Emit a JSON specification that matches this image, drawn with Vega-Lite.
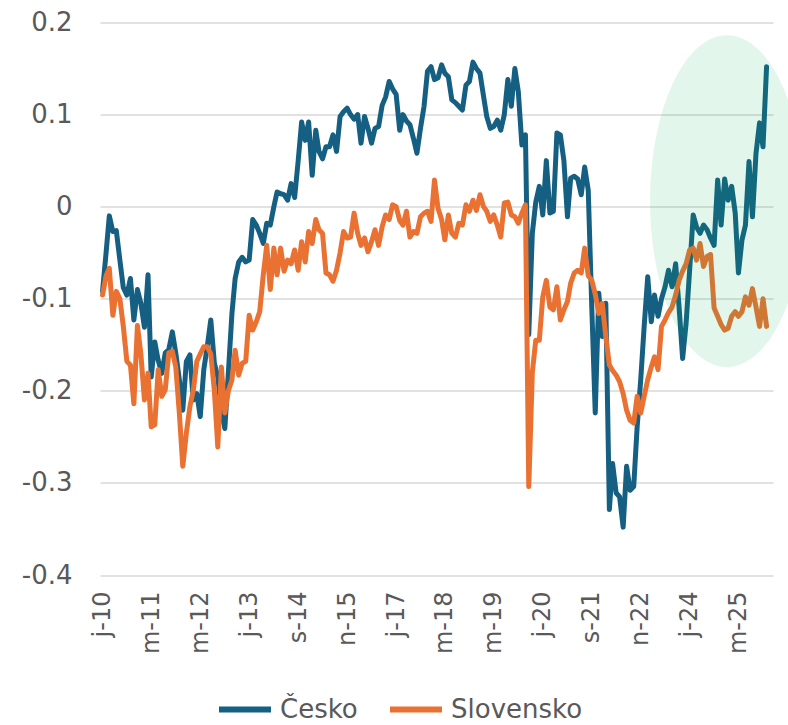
{
  "$schema": "https://vega.github.io/schema/vega-lite/v6.json",
  "width": 673,
  "height": 552.5,
  "autosize": {"type": "none"},
  "padding": {"left": 100, "top": 22.5, "right": 15, "bottom": 150},
  "background": "white",
  "config": {"view": {"stroke": null}, "font": "DejaVu Sans"},
  "layer": [
    {
      "data": {"values": [
        {"m":"2010-01","Česko":-0.092,"Slovensko":-0.096},
        {"m":"2010-02","Česko":-0.050,"Slovensko":-0.075},
        {"m":"2010-03","Česko":-0.010,"Slovensko":-0.067},
        {"m":"2010-04","Česko":-0.027,"Slovensko":-0.118},
        {"m":"2010-05","Česko":-0.026,"Slovensko":-0.092},
        {"m":"2010-06","Česko":-0.058,"Slovensko":-0.100},
        {"m":"2010-07","Česko":-0.088,"Slovensko":-0.130},
        {"m":"2010-08","Česko":-0.096,"Slovensko":-0.168},
        {"m":"2010-09","Česko":-0.078,"Slovensko":-0.172},
        {"m":"2010-10","Česko":-0.123,"Slovensko":-0.214},
        {"m":"2010-11","Česko":-0.090,"Slovensko":-0.129},
        {"m":"2010-12","Česko":-0.105,"Slovensko":-0.160},
        {"m":"2011-01","Česko":-0.131,"Slovensko":-0.210},
        {"m":"2011-02","Česko":-0.074,"Slovensko":-0.181},
        {"m":"2011-03","Česko":-0.185,"Slovensko":-0.239},
        {"m":"2011-04","Česko":-0.147,"Slovensko":-0.237},
        {"m":"2011-05","Česko":-0.167,"Slovensko":-0.177},
        {"m":"2011-06","Česko":-0.181,"Slovensko":-0.206},
        {"m":"2011-07","Česko":-0.159,"Slovensko":-0.199},
        {"m":"2011-08","Česko":-0.155,"Slovensko":-0.159},
        {"m":"2011-09","Česko":-0.136,"Slovensko":-0.157},
        {"m":"2011-10","Česko":-0.159,"Slovensko":-0.174},
        {"m":"2011-11","Česko":-0.188,"Slovensko":-0.224},
        {"m":"2011-12","Česko":-0.221,"Slovensko":-0.282},
        {"m":"2012-01","Česko":-0.168,"Slovensko":-0.246},
        {"m":"2012-02","Česko":-0.161,"Slovensko":-0.217},
        {"m":"2012-03","Česko":-0.210,"Slovensko":-0.200},
        {"m":"2012-04","Česko":-0.203,"Slovensko":-0.168},
        {"m":"2012-05","Česko":-0.228,"Slovensko":-0.160},
        {"m":"2012-06","Česko":-0.177,"Slovensko":-0.152},
        {"m":"2012-07","Česko":-0.152,"Slovensko":-0.152},
        {"m":"2012-08","Česko":-0.123,"Slovensko":-0.160},
        {"m":"2012-09","Česko":-0.170,"Slovensko":-0.200},
        {"m":"2012-10","Česko":-0.185,"Slovensko":-0.261},
        {"m":"2012-11","Česko":-0.221,"Slovensko":-0.174},
        {"m":"2012-12","Česko":-0.241,"Slovensko":-0.224},
        {"m":"2013-01","Česko":-0.180,"Slovensko":-0.200},
        {"m":"2013-02","Česko":-0.116,"Slovensko":-0.188},
        {"m":"2013-03","Česko":-0.078,"Slovensko":-0.156},
        {"m":"2013-04","Česko":-0.060,"Slovensko":-0.183},
        {"m":"2013-05","Česko":-0.055,"Slovensko":-0.170},
        {"m":"2013-06","Česko":-0.060,"Slovensko":-0.168},
        {"m":"2013-07","Česko":-0.058,"Slovensko":-0.118},
        {"m":"2013-08","Česko":-0.014,"Slovensko":-0.134},
        {"m":"2013-09","Česko":-0.020,"Slovensko":-0.125},
        {"m":"2013-10","Česko":-0.029,"Slovensko":-0.114},
        {"m":"2013-11","Česko":-0.040,"Slovensko":-0.074},
        {"m":"2013-12","Česko":-0.018,"Slovensko":-0.042},
        {"m":"2014-01","Česko":-0.020,"Slovensko":-0.090},
        {"m":"2014-02","Česko":0.000,"Slovensko":-0.045},
        {"m":"2014-03","Česko":0.016,"Slovensko":-0.074},
        {"m":"2014-04","Česko":0.014,"Slovensko":-0.045},
        {"m":"2014-05","Česko":0.013,"Slovensko":-0.070},
        {"m":"2014-06","Česko":0.007,"Slovensko":-0.058},
        {"m":"2014-07","Česko":0.025,"Slovensko":-0.062},
        {"m":"2014-08","Česko":0.010,"Slovensko":-0.047},
        {"m":"2014-09","Česko":0.050,"Slovensko":-0.069},
        {"m":"2014-10","Česko":0.092,"Slovensko":-0.038},
        {"m":"2014-11","Česko":0.072,"Slovensko":-0.060},
        {"m":"2014-12","Česko":0.092,"Slovensko":-0.027},
        {"m":"2015-01","Česko":0.034,"Slovensko":-0.040},
        {"m":"2015-02","Česko":0.083,"Slovensko":-0.014},
        {"m":"2015-03","Česko":0.060,"Slovensko":-0.025},
        {"m":"2015-04","Česko":0.052,"Slovensko":-0.029},
        {"m":"2015-05","Česko":0.065,"Slovensko":-0.072},
        {"m":"2015-06","Česko":0.065,"Slovensko":-0.074},
        {"m":"2015-07","Česko":0.078,"Slovensko":-0.081},
        {"m":"2015-08","Česko":0.060,"Slovensko":-0.069},
        {"m":"2015-09","Česko":0.098,"Slovensko":-0.050},
        {"m":"2015-10","Česko":0.103,"Slovensko":-0.027},
        {"m":"2015-11","Česko":0.107,"Slovensko":-0.034},
        {"m":"2015-12","Česko":0.100,"Slovensko":-0.033},
        {"m":"2016-01","Česko":0.095,"Slovensko":-0.007},
        {"m":"2016-02","Česko":0.100,"Slovensko":-0.029},
        {"m":"2016-03","Česko":0.069,"Slovensko":-0.042},
        {"m":"2016-04","Česko":0.098,"Slovensko":-0.034},
        {"m":"2016-05","Česko":0.085,"Slovensko":-0.049},
        {"m":"2016-06","Česko":0.069,"Slovensko":-0.038},
        {"m":"2016-07","Česko":0.085,"Slovensko":-0.025},
        {"m":"2016-08","Česko":0.087,"Slovensko":-0.042},
        {"m":"2016-09","Česko":0.110,"Slovensko":-0.022},
        {"m":"2016-10","Česko":0.119,"Slovensko":-0.009},
        {"m":"2016-11","Česko":0.136,"Slovensko":-0.014},
        {"m":"2016-12","Česko":0.128,"Slovensko":0.002},
        {"m":"2017-01","Česko":0.122,"Slovensko":0.000},
        {"m":"2017-02","Česko":0.083,"Slovensko":-0.015},
        {"m":"2017-03","Česko":0.100,"Slovensko":-0.020},
        {"m":"2017-04","Česko":0.093,"Slovensko":-0.005},
        {"m":"2017-05","Česko":0.089,"Slovensko":-0.033},
        {"m":"2017-06","Česko":0.074,"Slovensko":-0.027},
        {"m":"2017-07","Česko":0.058,"Slovensko":-0.029},
        {"m":"2017-08","Česko":0.085,"Slovensko":-0.011},
        {"m":"2017-09","Česko":0.109,"Slovensko":-0.007},
        {"m":"2017-10","Česko":0.147,"Slovensko":-0.005},
        {"m":"2017-11","Česko":0.152,"Slovensko":-0.016},
        {"m":"2017-12","Česko":0.138,"Slovensko":0.029},
        {"m":"2018-01","Česko":0.140,"Slovensko":-0.002},
        {"m":"2018-02","Česko":0.154,"Slovensko":-0.014},
        {"m":"2018-03","Česko":0.145,"Slovensko":-0.036},
        {"m":"2018-04","Česko":0.141,"Slovensko":-0.009},
        {"m":"2018-05","Česko":0.116,"Slovensko":-0.029},
        {"m":"2018-06","Česko":0.113,"Slovensko":-0.033},
        {"m":"2018-07","Česko":0.109,"Slovensko":-0.018},
        {"m":"2018-08","Česko":0.105,"Slovensko":-0.020},
        {"m":"2018-09","Česko":0.132,"Slovensko":0.002},
        {"m":"2018-10","Česko":0.136,"Slovensko":-0.005},
        {"m":"2018-11","Česko":0.157,"Slovensko":0.007},
        {"m":"2018-12","Česko":0.150,"Slovensko":-0.004},
        {"m":"2019-01","Česko":0.145,"Slovensko":0.013},
        {"m":"2019-02","Česko":0.120,"Slovensko":0.000},
        {"m":"2019-03","Česko":0.098,"Slovensko":-0.005},
        {"m":"2019-04","Česko":0.085,"Slovensko":-0.016},
        {"m":"2019-05","Česko":0.087,"Slovensko":-0.009},
        {"m":"2019-06","Česko":0.094,"Slovensko":-0.020},
        {"m":"2019-07","Česko":0.083,"Slovensko":-0.033},
        {"m":"2019-08","Česko":0.100,"Slovensko":0.004},
        {"m":"2019-09","Česko":0.138,"Slovensko":0.005},
        {"m":"2019-10","Česko":0.109,"Slovensko":-0.009},
        {"m":"2019-11","Česko":0.150,"Slovensko":-0.011},
        {"m":"2019-12","Česko":0.125,"Slovensko":-0.018},
        {"m":"2020-01","Česko":0.067,"Slovensko":-0.007},
        {"m":"2020-02","Česko":0.078,"Slovensko":0.002},
        {"m":"2020-03","Česko":-0.139,"Slovensko":-0.304},
        {"m":"2020-04","Česko":-0.029,"Slovensko":-0.180},
        {"m":"2020-05","Česko":0.005,"Slovensko":-0.145},
        {"m":"2020-06","Česko":0.022,"Slovensko":-0.145},
        {"m":"2020-07","Česko":-0.009,"Slovensko":-0.098},
        {"m":"2020-08","Česko":0.050,"Slovensko":-0.080},
        {"m":"2020-09","Česko":-0.007,"Slovensko":-0.109},
        {"m":"2020-10","Česko":-0.005,"Slovensko":-0.112},
        {"m":"2020-11","Česko":0.080,"Slovensko":-0.087},
        {"m":"2020-12","Česko":0.078,"Slovensko":-0.123},
        {"m":"2021-01","Česko":0.050,"Slovensko":-0.112},
        {"m":"2021-02","Česko":-0.011,"Slovensko":-0.103},
        {"m":"2021-03","Česko":0.031,"Slovensko":-0.083},
        {"m":"2021-04","Česko":0.033,"Slovensko":-0.072},
        {"m":"2021-05","Česko":0.030,"Slovensko":-0.069},
        {"m":"2021-06","Česko":0.013,"Slovensko":-0.072},
        {"m":"2021-07","Česko":0.043,"Slovensko":-0.045},
        {"m":"2021-08","Česko":0.018,"Slovensko":-0.075},
        {"m":"2021-09","Česko":-0.110,"Slovensko":-0.080},
        {"m":"2021-10","Česko":-0.224,"Slovensko":-0.095},
        {"m":"2021-11","Česko":-0.094,"Slovensko":-0.116},
        {"m":"2021-12","Česko":-0.141,"Slovensko":-0.105},
        {"m":"2022-01","Česko":-0.105,"Slovensko":-0.141},
        {"m":"2022-02","Česko":-0.329,"Slovensko":-0.172},
        {"m":"2022-03","Česko":-0.279,"Slovensko":-0.178},
        {"m":"2022-04","Česko":-0.311,"Slovensko":-0.183},
        {"m":"2022-05","Česko":-0.315,"Slovensko":-0.190},
        {"m":"2022-06","Česko":-0.348,"Slovensko":-0.203},
        {"m":"2022-07","Česko":-0.282,"Slovensko":-0.221},
        {"m":"2022-08","Česko":-0.308,"Slovensko":-0.232},
        {"m":"2022-09","Česko":-0.304,"Slovensko":-0.235},
        {"m":"2022-10","Česko":-0.239,"Slovensko":-0.206},
        {"m":"2022-11","Česko":-0.188,"Slovensko":-0.224},
        {"m":"2022-12","Česko":-0.130,"Slovensko":-0.206},
        {"m":"2023-01","Česko":-0.076,"Slovensko":-0.188},
        {"m":"2023-02","Česko":-0.125,"Slovensko":-0.174},
        {"m":"2023-03","Česko":-0.096,"Slovensko":-0.163},
        {"m":"2023-04","Česko":-0.119,"Slovensko":-0.177},
        {"m":"2023-05","Česko":-0.100,"Slovensko":-0.130},
        {"m":"2023-06","Česko":-0.087,"Slovensko":-0.123},
        {"m":"2023-07","Česko":-0.069,"Slovensko":-0.115},
        {"m":"2023-08","Česko":-0.087,"Slovensko":-0.109},
        {"m":"2023-09","Česko":-0.062,"Slovensko":-0.096},
        {"m":"2023-10","Česko":-0.109,"Slovensko":-0.080},
        {"m":"2023-11","Česko":-0.165,"Slovensko":-0.070},
        {"m":"2023-12","Česko":-0.127,"Slovensko":-0.062},
        {"m":"2024-01","Česko":-0.069,"Slovensko":-0.047},
        {"m":"2024-02","Česko":-0.009,"Slovensko":-0.045},
        {"m":"2024-03","Česko":-0.022,"Slovensko":-0.058},
        {"m":"2024-04","Česko":-0.029,"Slovensko":-0.040},
        {"m":"2024-05","Česko":-0.020,"Slovensko":-0.065},
        {"m":"2024-06","Česko":-0.025,"Slovensko":-0.054},
        {"m":"2024-07","Česko":-0.034,"Slovensko":-0.052},
        {"m":"2024-08","Česko":-0.042,"Slovensko":-0.110},
        {"m":"2024-09","Česko":0.029,"Slovensko":-0.119},
        {"m":"2024-10","Česko":-0.020,"Slovensko":-0.128},
        {"m":"2024-11","Česko":0.030,"Slovensko":-0.134},
        {"m":"2024-12","Česko":0.007,"Slovensko":-0.132},
        {"m":"2025-01","Česko":0.022,"Slovensko":-0.119},
        {"m":"2025-02","Česko":-0.007,"Slovensko":-0.114},
        {"m":"2025-03","Česko":-0.072,"Slovensko":-0.119},
        {"m":"2025-04","Česko":-0.036,"Slovensko":-0.114},
        {"m":"2025-05","Česko":-0.020,"Slovensko":-0.098},
        {"m":"2025-06","Česko":0.049,"Slovensko":-0.107},
        {"m":"2025-07","Česko":-0.011,"Slovensko":-0.089},
        {"m":"2025-08","Česko":0.058,"Slovensko":-0.109},
        {"m":"2025-09","Česko":0.091,"Slovensko":-0.130},
        {"m":"2025-10","Česko":0.065,"Slovensko":-0.100},
        {"m":"2025-11","Česko":0.152,"Slovensko":-0.130}
      ]},
      "transform": [{"fold": ["Česko", "Slovensko"], "as": ["zeme", "hodnota"]}],
      "mark": {"type": "line", "strokeWidth": 5, "strokeCap": "round", "strokeJoin": "round"},
      "encoding": {
        "x": {
          "field": "m", "type": "temporal",
          "scale": {"type": "utc", "domain": [{"year": 2009, "month": 12, "date": 10, "utc": true}, {"year": 2025, "month": 12, "date": 27, "utc": true}]},
          "axis": {
            "title": null, "grid": false, "domain": false, "ticks": false,
            "values": [
              {"year": 2010, "month": 1, "date": 1, "utc": true},
              {"year": 2011, "month": 3, "date": 1, "utc": true},
              {"year": 2012, "month": 5, "date": 1, "utc": true},
              {"year": 2013, "month": 7, "date": 1, "utc": true},
              {"year": 2014, "month": 9, "date": 1, "utc": true},
              {"year": 2015, "month": 11, "date": 1, "utc": true},
              {"year": 2017, "month": 1, "date": 1, "utc": true},
              {"year": 2018, "month": 3, "date": 1, "utc": true},
              {"year": 2019, "month": 5, "date": 1, "utc": true},
              {"year": 2020, "month": 7, "date": 1, "utc": true},
              {"year": 2021, "month": 9, "date": 1, "utc": true},
              {"year": 2022, "month": 11, "date": 1, "utc": true},
              {"year": 2024, "month": 1, "date": 1, "utc": true},
              {"year": 2025, "month": 3, "date": 1, "utc": true}
            ],
            "labelExpr": "lower(slice(utcFormat(datum.value, '%b'), 0, 1)) + '-' + utcFormat(datum.value, '%y')",
            "labelAngle": -90, "labelPadding": 16, "labelFontSize": 24, "labelColor": "#595959",
            "labelOverlap": false, "labelFlush": false, "labelBound": false
          }
        },
        "y": {
          "field": "hodnota", "type": "quantitative",
          "scale": {"domain": [-0.4, 0.2], "nice": false, "zero": false},
          "axis": {
            "title": null, "domain": false, "ticks": false,
            "values": [-0.4, -0.3, -0.2, -0.1, 0, 0.1, 0.2],
            "labelExpr": "datum.value == 0 ? '0' : replace(format(datum.value, '.1f'), '\u2212', '-')",
            "labelPadding": 28, "labelFontSize": 26, "labelColor": "#595959",
            "gridColor": "#d9d9d9", "gridWidth": 1.5
          }
        },
        "color": {
          "field": "zeme", "type": "nominal",
          "scale": {"domain": ["Česko", "Slovensko"], "range": ["#156082", "#E97132"]},
          "legend": {
            "title": null, "orient": "none", "legendX": 116, "legendY": 658,
            "direction": "horizontal", "symbolType": "stroke", "symbolSize": 2704,
            "symbolStrokeWidth": 6, "labelFontSize": 26, "labelColor": "#595959",
            "labelOffset": 6, "columnPadding": 20
          }
        }
      }
    },
    {
      "data": {"values": [{"m": "2024-11-22", "hodnota": 0.006}]},
      "mark": {
        "type": "point",
        "shape": "M 0 -1 C 0.2562 -1 0.4639 -0.5523 0.4639 0 C 0.4639 0.5523 0.2562 1 0 1 C -0.2562 1 -0.4639 0.5523 -0.4639 0 C -0.4639 -0.5523 -0.2562 -1 0 -1 Z",
        "size": 110224, "filled": true, "fill": "#00b050", "fillOpacity": 0.11, "opacity": 1, "strokeWidth": 0
      },
      "encoding": {
        "x": {"field": "m", "type": "temporal"},
        "y": {"field": "hodnota", "type": "quantitative"}
      }
    }
  ]
}
